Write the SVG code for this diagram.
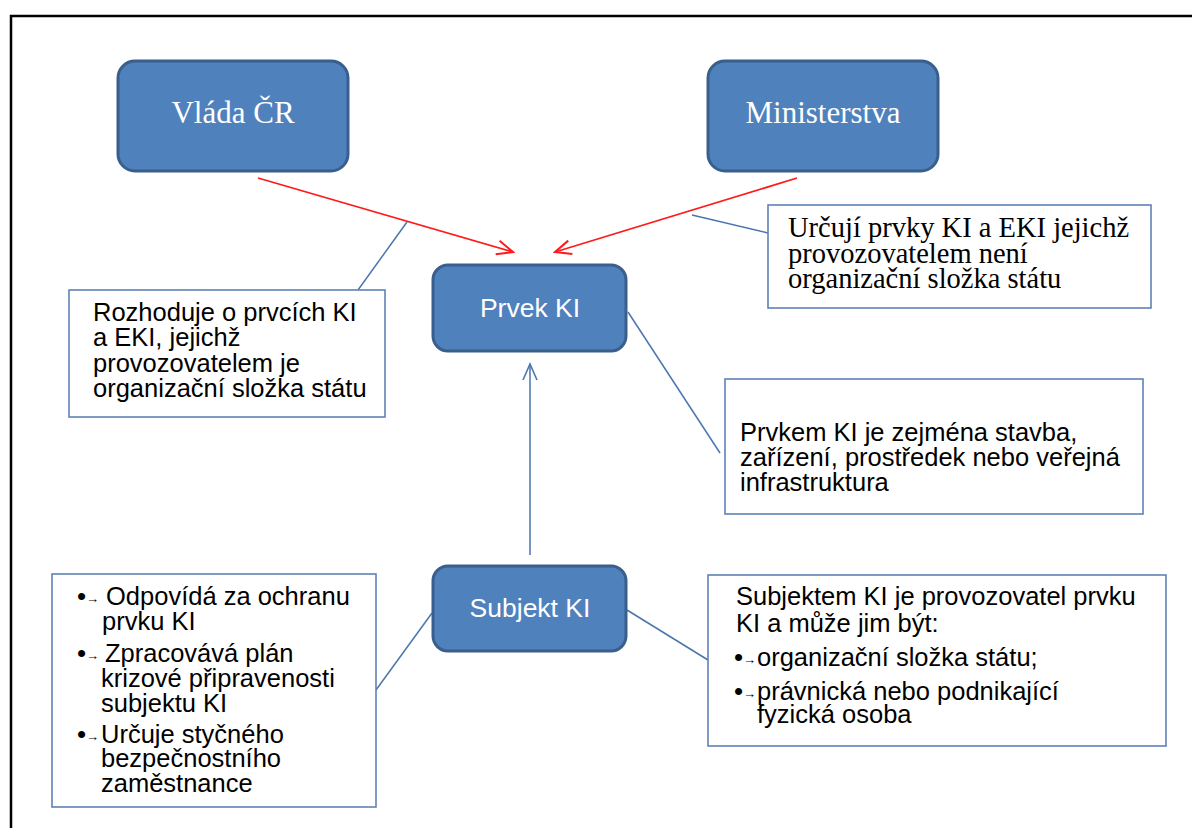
<svg xmlns="http://www.w3.org/2000/svg" width="1192" height="828" viewBox="0 0 1192 828">
<defs>
<style>
.node{fill:#4F81BD;stroke:#3A5F8C;stroke-width:3}
.box{fill:#fff;stroke:#5F82B6;stroke-width:1.6}
.ser{font-family:"Liberation Serif","Times New Roman",serif}
.san{font-family:"Liberation Sans",Arial,sans-serif}
.nt{fill:#fff;text-anchor:middle}
.bt{fill:#000;font-size:25.5px}
.bd{font-size:26px}
.ba{font-size:13px;font-weight:bold}
.red{stroke:#FF1A1A;stroke-width:1.8;fill:none}
.blue{stroke:#4A75AD;stroke-width:1.5;fill:none}
</style>
<marker id="ar" viewBox="0 0 20 20" refX="18" refY="10" markerWidth="20" markerHeight="20" markerUnits="userSpaceOnUse" orient="auto">
<path d="M2,3 L18,10 L2,17" fill="none" stroke="#FF1A1A" stroke-width="2"/>
</marker>
<marker id="ab" viewBox="0 0 20 20" refX="18" refY="10" markerWidth="20" markerHeight="20" markerUnits="userSpaceOnUse" orient="auto">
<path d="M2,3 L18,10 L2,17" fill="none" stroke="#4A75AD" stroke-width="1.6"/>
</marker>
</defs>
<rect width="1192" height="828" fill="#fff"/>
<rect x="11" y="16" width="1200" height="840" fill="none" stroke="#000" stroke-width="2.5"/>

<g id="connectors">
<line class="red" x1="258" y1="178" x2="513" y2="252" marker-end="url(#ar)"/>
<line class="red" x1="797" y1="178" x2="555" y2="252" marker-end="url(#ar)"/>
<line class="blue" x1="358" y1="290" x2="407" y2="222"/>
<line class="blue" x1="768" y1="233" x2="692" y2="215"/>
<line class="blue" x1="628" y1="312" x2="720" y2="453"/>
<line class="blue" x1="530" y1="555" x2="530" y2="364" marker-end="url(#ab)"/>
<line class="blue" x1="376" y1="690" x2="432" y2="613"/>
<line class="blue" x1="627" y1="610" x2="708" y2="660"/>
</g>

<g id="vlada">
<rect class="node" x="118" y="61" width="230" height="110" rx="17"/>
<text class="ser nt" x="233" y="123" font-size="31">Vláda ČR</text>
</g>
<g id="ministerstva">
<rect class="node" x="708" y="61" width="230" height="110" rx="17"/>
<text class="ser nt" x="823" y="123" font-size="31">Ministerstva</text>
</g>
<g id="prvek">
<rect class="node" x="433" y="265" width="193" height="86" rx="15"/>
<text class="san nt" x="530" y="317" font-size="26.5">Prvek KI</text>
</g>
<g id="subjekt">
<rect class="node" x="433" y="566" width="193" height="85" rx="15"/>
<text class="san nt" x="530" y="617" font-size="26.5">Subjekt KI</text>
</g>

<g id="urcuji">
<rect class="box" x="768" y="205" width="383" height="103"/>
<text class="ser" fill="#000" font-size="28.5">
<tspan x="788" y="237">Určují prvky KI a EKI jejichž</tspan>
<tspan x="788" y="263">provozovatelem není</tspan>
<tspan x="788" y="288">organizační složka státu</tspan>
</text>
</g>
<g id="rozhoduje">
<rect class="box" x="69" y="290" width="316" height="127"/>
<text class="san bt">
<tspan x="93" y="321">Rozhoduje o prvcích KI</tspan>
<tspan x="93" y="346">a EKI, jejichž</tspan>
<tspan x="93" y="372">provozovatelem je</tspan>
<tspan x="93" y="397">organizační složka státu</tspan>
</text>
</g>
<g id="prvkem">
<rect class="box" x="725" y="379" width="418" height="135" stroke="#4F81BD" stroke-width="2.2"/>
<text class="san bt">
<tspan x="740" y="441">Prvkem KI je zejména stavba,</tspan>
<tspan x="740" y="466">zařízení, prostředek nebo veřejná</tspan>
<tspan x="740" y="491">infrastruktura</tspan>
</text>
</g>
<g id="povinnosti">
<rect class="box" x="52" y="574" width="324" height="233"/>
<text class="san bt" font-size="26">
<tspan x="77" y="605" class="bd">•</tspan><tspan class="ba" y="603">→</tspan><tspan x="106" y="605">Odpovídá za ochranu</tspan>
<tspan x="102" y="630">prvku KI</tspan>
<tspan x="77" y="662" class="bd">•</tspan><tspan class="ba" y="660">→</tspan><tspan x="105" y="662">Zpracovává plán</tspan>
<tspan x="101" y="687">krizové připravenosti</tspan>
<tspan x="101" y="712">subjektu KI</tspan>
<tspan x="77" y="743" class="bd">•</tspan><tspan class="ba" y="741">→</tspan><tspan x="101" y="743">Určuje styčného</tspan>
<tspan x="101" y="767">bezpečnostního</tspan>
<tspan x="101" y="792">zaměstnance</tspan>
</text>
</g>
<g id="subjektem">
<rect class="box" x="708" y="575" width="458" height="171"/>
<text class="san bt" font-size="26">
<tspan x="734" y="666" class="bd">•</tspan><tspan class="ba" y="664">→</tspan><tspan x="757" y="666">organizační složka státu;</tspan>
<tspan x="734" y="700" class="bd">•</tspan><tspan class="ba" y="698">→</tspan><tspan x="757" y="700">právnická nebo podnikající</tspan>
<tspan x="736" y="605">Subjektem KI je provozovatel prvku</tspan>
<tspan x="736" y="632">KI a může jim být:</tspan>
<tspan x="757" y="723">fyzická osoba</tspan>
</text>
</g>
</svg>
